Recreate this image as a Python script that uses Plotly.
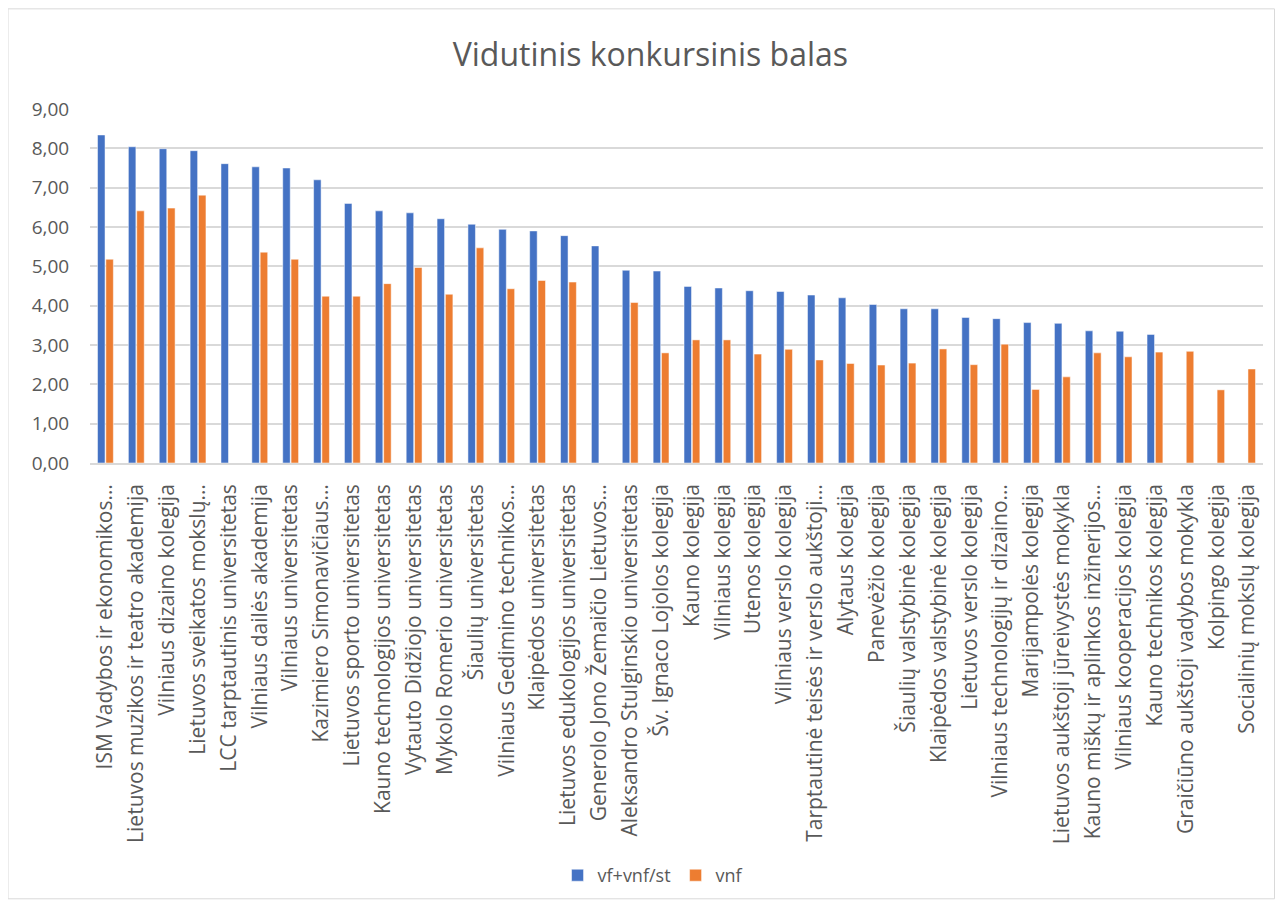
import plotly.graph_objects as go

institutions = [
    "ISM Vadybos ir ekonomikos…",
    "Lietuvos muzikos ir teatro akademija",
    "Vilniaus dizaino kolegija",
    "Lietuvos sveikatos mokslų…",
    "LCC tarptautinis universitetas",
    "Vilniaus dailės akademija",
    "Vilniaus universitetas",
    "Kazimiero Simonavičiaus…",
    "Lietuvos sporto universitetas",
    "Kauno technologijos universitetas",
    "Vytauto Didžiojo universitetas",
    "Mykolo Romerio universitetas",
    "Šiaulių universitetas",
    "Vilniaus Gedimino technikos…",
    "Klaipėdos universitetas",
    "Lietuvos edukologijos universitetas",
    "Generolo Jono Žemaičio Lietuvos…",
    "Aleksandro Stulginskio universitetas",
    "Šv. Ignaco Lojolos kolegija",
    "Kauno kolegija",
    "Vilniaus kolegija",
    "Utenos kolegija",
    "Vilniaus verslo kolegija",
    "Tarptautinė teisės ir verslo aukštoji…",
    "Alytaus kolegija",
    "Panevėžio kolegija",
    "Šiaulių valstybinė kolegija",
    "Klaipėdos valstybinė kolegija",
    "Lietuvos verslo kolegija",
    "Vilniaus technologijų ir dizaino…",
    "Marijampolės kolegija",
    "Lietuvos aukštoji jūreivystės mokykla",
    "Kauno miškų ir aplinkos inžinerijos…",
    "Vilniaus kooperacijos kolegija",
    "Kauno technikos kolegija",
    "Graičiūno aukštoji vadybos mokykla",
    "Kolpingo kolegija",
    "Socialinių mokslų kolegija",
]

vf_vnf_st = [8.34, 8.04, 7.99, 7.94, 7.61, 7.53, 7.50, 7.20, 6.60, 6.41,
             6.36, 6.21, 6.07, 5.94, 5.90, 5.78, 5.52, 4.90, 4.88, 4.49,
             4.45, 4.38, 4.36, 4.27, 4.20, 4.03, 3.92, 3.92, 3.70, 3.67,
             3.57, 3.55, 3.36, 3.35, 3.27, None, None, None]

vnf = [5.18, 6.41, 6.48, 6.81, None, 5.36, 5.18, 4.24, 4.24, 4.56,
       4.97, 4.29, 5.47, 4.43, 4.64, 4.60, None, 4.08, 2.80, 3.13,
       3.13, 2.77, 2.89, 2.62, 2.53, 2.49, 2.54, 2.90, 2.50, 3.02,
       1.87, 2.19, 2.80, 2.70, 2.82, 2.84, 1.86, 2.39]

y_ticks = [0, 1, 2, 3, 4, 5, 6, 7, 8, 9]

W, H = 1267, 898
ml, mr, mt, mb = 82, 12, 101, 440
pw, ph = W - ml - mr, H - mt - mb

fig = go.Figure()
fig.add_trace(go.Bar(x=institutions, y=vf_vnf_st, name="vf+vnf/st",
                     marker=dict(color="#4472C4", line=dict(color="white", width=0.5))))
fig.add_trace(go.Bar(x=institutions, y=vnf, name="vnf",
                     marker=dict(color="#ED7D31", line=dict(color="white", width=0.5))))

fig.update_layout(
    width=W, height=H,
    margin=dict(l=ml, r=mr, t=mt, b=mb),
    paper_bgcolor="white", plot_bgcolor="white",
    separators=",.",
    barmode="group", bargap=0.46, bargroupgap=0.1,
    font=dict(family="Open Sans", color="#595959", size=19),
    title=dict(text="Vidutinis konkursinis balas", x=0.507, xanchor="center",
               y=1 - 47 / H, yanchor="middle",
               font=dict(size=32, color="#595959")),
    legend=dict(orientation="h", x=0.48, xanchor="center",
                y=-(874 - (mt + ph)) / ph, yanchor="middle",
                font=dict(size=18, color="#595959"),
                itemwidth=30, traceorder="normal"),
    shapes=[dict(type="rect", xref="paper", yref="paper",
                 x0=-ml / pw, x1=1 + mr / pw - 0.5 / pw,
                 y0=-mb / ph + 0.5 / ph, y1=1 + mt / ph,
                 line=dict(color="#D9D9D9", width=1))],
)
fig.update_xaxes(tickangle=-90, showgrid=False, showline=True,
                 linecolor="#D9D9D9", linewidth=1.5,
                 ticks="outside", ticklen=11, tickcolor="rgba(0,0,0,0)",
                 tickfont=dict(size=21, color="#595959"))
fig.update_yaxes(range=[0, 9], tickvals=y_ticks, tickformat=".2f",
                 showgrid=True, gridcolor="#D9D9D9", gridwidth=1.5,
                 zeroline=False, ticks="outside", ticklen=16,
                 tickcolor="rgba(0,0,0,0)",
                 tickfont=dict(size=19, color="#595959"))

fig.write_html("out.html")
